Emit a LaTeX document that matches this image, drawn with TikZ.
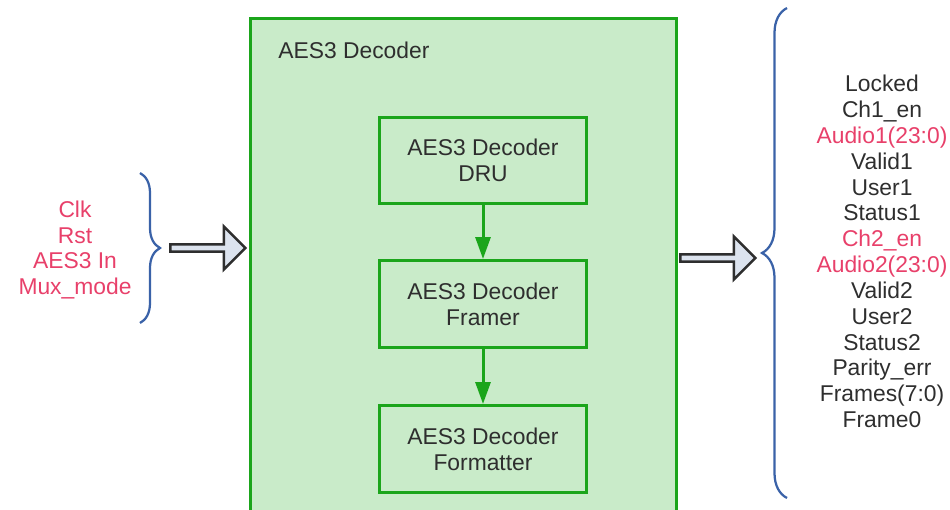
\documentclass[tikz,border=0pt]{standalone}
\usepackage{fontspec}
\setmainfont{Liberation Sans}
\usepackage{tikz}
\usetikzlibrary{arrows.meta,positioning,shapes.arrows,decorations.pathreplacing}
\definecolor{leaf}{HTML}{1BA51B}
\definecolor{mint}{HTML}{C9EBC9}
\definecolor{ink}{HTML}{2E2E2E}
\definecolor{rose}{HTML}{E8406A}
\definecolor{steel}{HTML}{3A62A8}
\definecolor{mist}{HTML}{DCE3EE}
\tikzset{txt/.style={font=\fontsize{13}{14.7}\selectfont,text=ink,align=center,inner sep=0pt},blk/.style={txt,draw=leaf,line width=0.06cm,fill=mint,minimum width=4.16cm,minimum height=1.74cm},flow/.style={-{Triangle[length=4.4mm,width=3mm]},line width=0.06cm,draw=leaf},fat/.style={single arrow,draw=ink,fill=mist,line width=0.05cm,inner sep=0pt,minimum width=0.86cm,single arrow head extend=0.12cm,minimum height=1.5cm},brc/.style={draw=steel,line width=0.045cm,decorate}}
\newcommand{\pk}[1]{\textcolor{rose}{#1}}

\begin{document}
\begin{tikzpicture}[x=0.02cm,y=-0.02cm]
\useasboundingbox (0,0) rectangle (950,510);
\node[draw=leaf,line width=0.06cm,fill=mint,minimum width=8.54cm,minimum height=10.24cm,inner sep=0pt] (dec) at (463.5,274) {};
\node[txt,anchor=west] (title) at (278,50) {AES3 Decoder};
\node[blk] (dru) at (483,160.5) {AES3 Decoder\\DRU};
\node[blk] (framer) at (483,304) {AES3 Decoder\\Framer};
\node[blk] (fmt) at (483,449) {AES3 Decoder\\Formatter};
\draw[flow] (dru.south) -- (framer.north);
\draw[flow] (framer.south) -- (fmt.north);
% inputs
\node[txt,text=rose] (ins) at (75,250) {Clk\\Rst\\AES3 In\\Mux\_mode};
\coordinate (ltop) at (140,173);
\coordinate (lbot) at (140,323);
\draw[brc,decoration={brace,amplitude=0.4cm}] (ltop) -- (lbot);
\node[fat] (inarr) at (206,248) {};
% outputs
\node[fat] (outarr) at (716,258) {};
\coordinate (rtop) at (787,8);
\coordinate (rbot) at (787,498);
\draw[brc,decoration={brace,amplitude=0.5cm}] (rbot) -- (rtop);
\node[txt] (outs) at (882,251.5) {Locked\\Ch1\_en\\\pk{Audio1(23:0)}\\Valid1\\User1\\Status1\\\pk{Ch2\_en}\\\pk{Audio2(23:0)}\\Valid2\\User2\\Status2\\Parity\_err\\Frames(7:0)\\Frame0};
\end{tikzpicture}
\end{document}
